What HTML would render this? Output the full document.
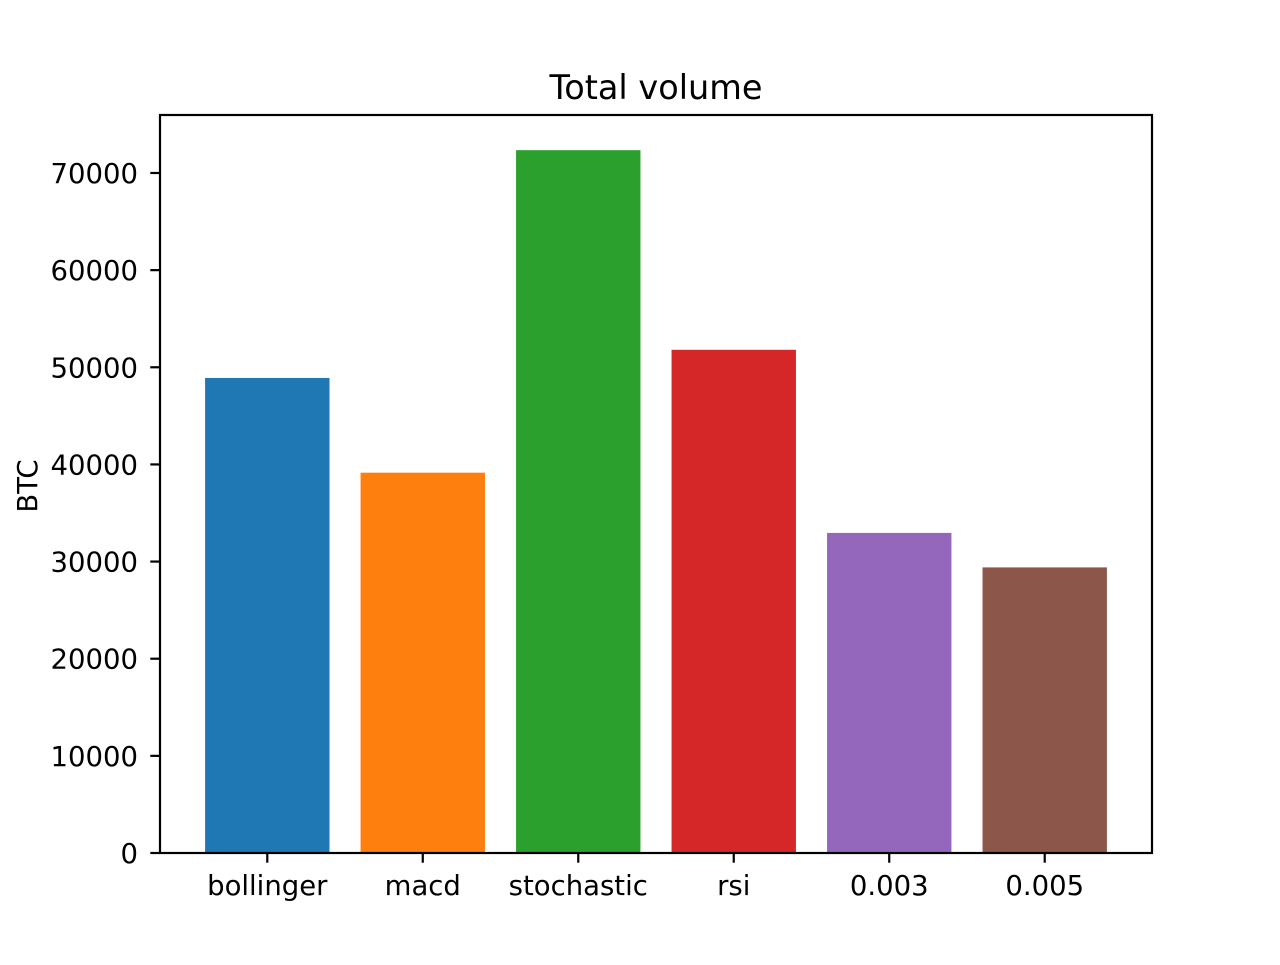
<!DOCTYPE html>
<html><head><meta charset="utf-8"><style>
body{margin:0;background:#fff}
svg text{font-family:"DejaVu Sans","Liberation Sans",sans-serif;fill:#000}
</style></head><body>
<svg id="chart" width="1280" height="960" xmlns="http://www.w3.org/2000/svg"></svg>
<script>
const categories=["bollinger","macd","stochastic","rsi","0.003","0.005"];
const values=[48900,39150,72350,51800,32950,29400];
const colors=["#1f77b4","#ff7f0e","#2ca02c","#d62728","#9467bd","#8c564b"];
const yTicks=[0,10000,20000,30000,40000,50000,60000,70000];
const NS="http://www.w3.org/2000/svg";
const svg=document.getElementById('chart');
const L=160,R=1152,T=115,B=853;
const xmin=-0.69,xmax=5.69,ymax=75970;
const x=v=>L+(v-xmin)/(xmax-xmin)*(R-L);
const y=v=>B-v/ymax*(B-T);
function mk(tag,attrs,parent){const e=document.createElementNS(NS,tag);for(const k in attrs)e.setAttribute(k,attrs[k]);(parent||svg).appendChild(e);return e;}
categories.forEach((c,i)=>{
  const r=mk('rect',{x:x(i-0.4),y:y(values[i]),width:x(i+0.4)-x(i-0.4),height:y(0)-y(values[i]),fill:colors[i]});
  
  
  const t=mk('line',{x1:x(i),x2:x(i),y1:B,y2:B+9.7,stroke:'#000','stroke-width':2.2});
  
  
  const l=mk('text',{x:x(i),y:B+42,'text-anchor':'middle','font-size':27.5});
  l.textContent=c;
  
  
});
yTicks.forEach(v=>{
  const t=mk('line',{x1:L-9.7,x2:L,y1:y(v),y2:y(v),stroke:'#000','stroke-width':2.2});
  
  
  const l=mk('text',{x:L-22,y:y(v)+10,'text-anchor':'end','font-size':27.5});
  l.textContent=v;
  
  
});
const f=mk('rect',{x:L,y:T,width:R-L,height:B-T,fill:'none',stroke:'#000','stroke-width':2.2});


const ti=mk('text',{x:(L+R)/2,y:99,'text-anchor':'middle','font-size':33.5});
ti.textContent='Total volume';


const yl=mk('text',{x:0,y:0,'text-anchor':'middle','font-size':27.5,transform:'translate(37,486) rotate(-90)'});
yl.textContent='BTC';


</script>
</body></html>
